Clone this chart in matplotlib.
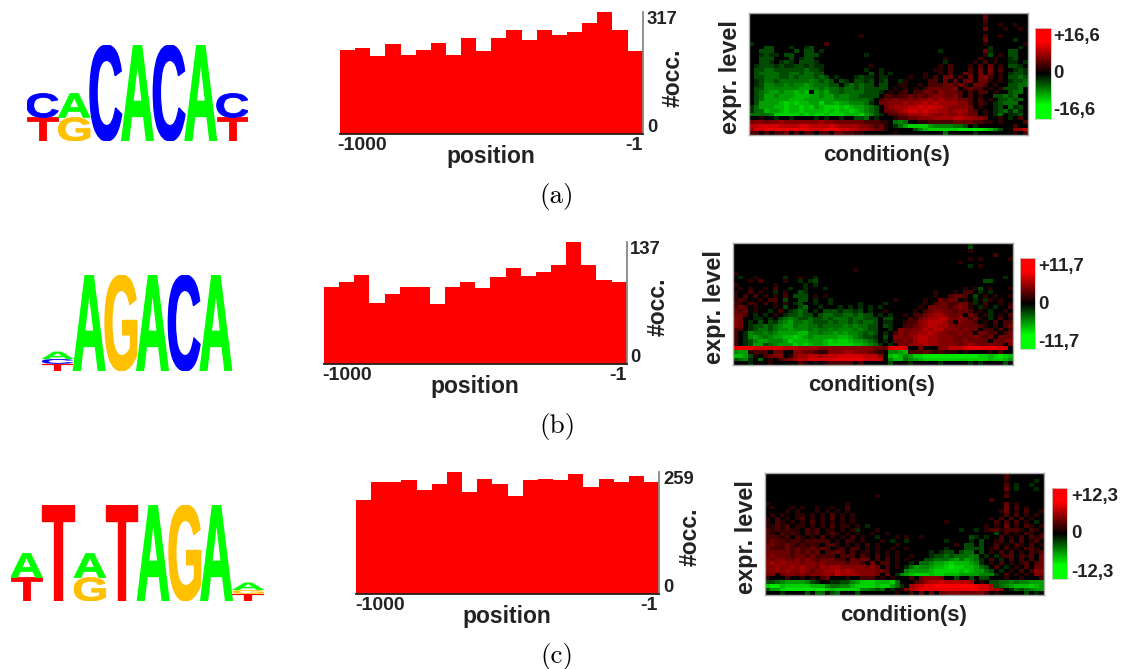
import numpy as np
import matplotlib
matplotlib.use('Agg')
import matplotlib.pyplot as plt
from matplotlib.colors import LinearSegmentedColormap
from matplotlib.font_manager import FontProperties
from matplotlib.patches import PathPatch
from matplotlib.textpath import TextPath
from matplotlib.transforms import Affine2D

W, H = 1121, 669

plt.rcParams['font.family'] = ['Liberation Sans', 'DejaVu Sans']

# sequence logos, each column is a bottom-up stack of (letter, bits)
logo_a = [[('T', .49), ('C', .5)], [('G', .49), ('A', .5)], [('C', 2)], [('A', 2)],
          [('C', 2)], [('A', 2)], [('T', .49), ('C', .5)]]
logo_b = [[('T', .15), ('C', .1), ('A', .15)], [('A', 2)], [('G', 2)], [('A', 2)],
          [('C', 2)], [('A', 2)]]
logo_c = [[('T', .49), ('A', .5)], [('T', 2)], [('G', .49), ('A', .5)], [('T', 2)],
          [('A', 2)], [('G', 2)], [('A', 2)], [('T', .15), ('G', .08), ('A', .15)]]
letter_colors = {'A': '#00ff00', 'C': '#0000ff', 'G': '#ffc000', 'T': '#ff0000'}

# occurrences per position bin
occ_a = [219, 223, 202, 234, 205, 219, 236, 206, 249, 215,
         251, 272, 244, 272, 258, 265, 290, 317, 272, 215]
occ_b = [86.5, 92.5, 100, 69, 79, 87, 87, 67, 86.5, 92,
         85, 98, 108, 99, 104, 111.5, 137, 112, 94, 92.5]
occ_c = [201, 239, 239, 242, 222, 234, 259, 217, 245, 234,
         208, 242, 245, 242, 256, 228, 245, 239, 251, 239]

# heatmaps read cell by cell: . black, 1-9 red levels, a-i green levels
heat_a = [
    "...............................................2........",
    "...............................................3........",
    "...............................................2........",
    "...............................................1..1..1..",
    "...............................................3...1..1.",
    "........................................................",
    "......................1........................2..1.....",
    "...............................................3.....a..",
    "a..............2...............................1.......1",
    "...bb...a..ab...................................a.....a.",
    "..bbb....b.bb.a.......................a........3a...bb..",
    "..abaa.bb..bbb.........a.......................1b.1.bb..",
    "..bbb...b.abb..........................1......2..1..ab..",
    "..bba.aba.bbba.........................a.....1.2.1..aa.a",
    ".abbbabaabbabaa.........1.............1.2...1.2.3.1.bba.",
    ".bbccbbbbbbcbba........a..a..........11.2...2.3.4.2..aba",
    ".bccccbbccbccbb.........b.a.a......1..1.2..32.3.3.1.abba",
    ".bbcccbbcbcccbcb.a...abaa.aa....1..1.2.33.2.3.342.1.bbcb",
    ".abccbccccccdcbcb.ba.bbab.ab..a1....22.3.3.33.331.1.abbc",
    ".abddccdcddedcccbb.bcbcbb.bb..11..1.22233232.332.1..bbcc",
    ".bbdddddddeeddcdccbccbcbbbbb.1.1.1.2333334.2322.1.1bbbc",
    ".bcdeedeefef.edeccbccccbbba.1.12.2233243332.2.22.1..bcc",
    ".bceedeeefffeedeecddccbbbb.2212232323443342.2.1..bbcbc.",
    ".bceeeeefffeeeeeedddccccb.2334334344545444332.2.1.bbcbc",
    ".beeeefgfgffeegeefeedddca.3344454556565555442.21.abccc.",
    "aceeeffgffgfgefgggfgfeedcb.345556676766544443.1..ab.cab",
    "accfeefgffgffffgfgffgfedcb.3345677676655455532.1.abcaca",
    "ccccdgggggfgfggfgggfffgedba.223455565445445433.1.ac.aab",
    "..1..a..a....a.a..a..bbc.a...1223344455556655443..1.a.2.",
    "3443445444444454433333322211.cdc..112222233332211.1....21",
    "6677776666776666765555443231.aceggggeddddccb.a.......2..2",
    "5778888888887778887766554331.....bdfgggggghhhhhgfdb..456",
    "22.2.223.2.22.22.332211......1.........c.....a.......1.2",
]
heat_b = [
    "...............................................a........",
    "...............................................b........",
    "...............................................1........",
    "....................................................2...",
    "...............................................1.1.....1",
    ".............................................1..........",
    "...............................................a.1......",
    "........................1...............................",
    "1.......................................................",
    ".a..1.....a..1..a.....................................a.",
    "...1.2....1..a.ab.................................bb....",
    "1.......1.....a.a.......................................",
    ".1.1..1.2..a..a...a...........................1.1b.1...1",
    "1..2.1..a.1..ba.........................1...1.22.a.a....",
    "1.2.2.1.1.2.bbb.1.1.....................1..2332.b.1.1..1",
    "121..1.22.b..bb.a..a............1.....1..3233.1.a.a1.1..",
    "21.21.2.1.1.ab..a..a.....a....a.......1.23322331a.2..1.1",
    "232.1...1.b..bc..a...a.a.a.a.a.......1.333323431.a1.a..2",
    "323.1..a.2.abcb.a.bbbabbab.a..1.....1.2344332332.1.a..1.",
    "332.a.a.1.abbcbb.bccbbccbcbb.a.a..1.2234554333.32.1a.1.2",
    "43..aa.a.bcdcbbcbbcbcccbccbbb.bb...213455664343231.a.2.1",
    "43.a.b.bacdeccdcbbbcbccbcbccb.aa..1224566653.4332.1.2.22",
    "43.abbcbcdeecddccbccccdcdccbb.ba..22345665543333321.1.23",
    "22.abccbcddedddcdccdcdddcdcbb..a.4334465664443433.22.2.2",
    "2.adccdcdeeeeffddcddededdcbcb.a.2434455654433433.3322.23",
    "2.adedcdeeffgfedeeeeeffedcbba.b.44345665544433334323.333",
    "2.abdeedddegfffeeefgfggfeedcb.a.3343566554443343333.3334",
    "2.abeebcdeeegfgfeefgggggffedca.a.434556554444345433433.3",
    "88887777776665555444444444443337887..3...44666788888877",
    "dee1222.33..443321144455444321.ddef2223212111.1....1.2..",
    "ffeb1.2344.1455665666777776664.fgfdegghhhhhhhhhhhggfghgf",
    "bcda.c.1.234566777778888887776.dffcdefgggggggggggggfggfe",
    "...a...1.....21.1.122222.2.....b...a.....a.....a.a....b.",
]
heat_c = [
    "................................................2.......",
    "................................................2.......",
    "................................................1.....a.",
    "................................................2.a..a..",
    "................................................3.a...a.",
    "................................................1.......",
    "......................1.........................2.......",
    ".............................................2..........",
    "1...............1...............................3.1.....",
    ".1...1.1..1..1..2...............................3.2.1...",
    "....1.1...1.1.1.1..............................13.1.2..1",
    ".1.1..11.1.1.2.1.1..............................2.2.1.1.",
    "1.2.1.12.1.1.2.1.1...........................1.2.2.2.1..",
    "1.21.1.1.2.1.1.1.1..................1.........2.2.2.1.a.",
    "11212.11.1.1.2.11.1.a.......................1.1.3.1.21.1",
    "2121211.212.11.1.1a...1................a..a.12212221.21.",
    "21.2121.212.121.1.1..1..1.....................b.2.1.21.1",
    "22212.21.1.2.1.1.2.1..a...1.1..1.........ba.a..2.1.2.212",
    "2322122122222.1.21.1...1.a..a.......a....a.b..12.2.2.12.",
    "33223212121.221.1.1.2.1...1...........1.bb.b..2.1.21.2.1",
    "3222323223232.12.22.1.1..1..1.......a...bbbb.12.2.1.221.",
    "33333232323.2232.2.11.1.1.1......a.abb.bcc.b.1.2.2.1.212",
    "34333233232222.222.21.2.1.1..1...abbcbcccdc.a.a122.212.3",
    "4344334343233322.3233.2.2.1.1...bbcccdecedca.2.a.2.2.2.3",
    "45454443443433332332.3.22.1..a.ccdeefgfffeda.1.2.1.12.23",
    "44544545443545544444343.2.1.aceddeffghggffecb.2.a.1.2.33",
    "4454544543445565654444332...deeeefgggggfgfeecb.a.1.2.244",
    "34.34434344454655554443.3.adefgggfggfffeeeeddda.2.1.1.43",
    "1...2..1.1.23...1..222.1.1...2.34443..b..b.bb...1..1...2",
    "bbcdeeeedba..aabbdegggfffgc...235667666665.1.bbccdcddeee",
    "ghhfgggggfffdccddfggggfggeca.56788999999998775bcdefffgfeg",
    "beeghhhhhhhhgfgggggddcbc.a.145788888888889877654.acbcdee",
    "...a....b.cc.bc...b.......1..2.3.3.3344333342.1.....b.a.",
]

cond_max_a, cond_max_b, cond_max_c = 16.6, 11.7, 12.3

# colour bar saturates before its ends, like the printed one
green_red = LinearSegmentedColormap.from_list(
    'gr', [(0, '#00ff00'), (0.15, '#00ff00'), (0.5, '#000000'), (0.85, '#ff0000'), (1, '#ff0000')])

fig = plt.figure(figsize=(W / 100, H / 100), dpi=100, facecolor='white')


def px_axes(x0, y0, x1, y1):
    return fig.add_axes([x0 / W, 1 - y1 / H, (x1 - x0) / W, (y1 - y0) / H])


def px_text(x, y, s, **kw):
    kw.setdefault('va', 'center')
    kw.setdefault('color', '#222222')
    kw.setdefault('fontweight', 'bold')
    fig.text(x / W, 1 - y / H, s, **kw)


def decode(rows):
    out = np.zeros((len(rows), 56))
    for r, row in enumerate(rows):
        for c, ch in enumerate(row[:56]):
            if ch.isdigit():
                out[r, c] = (int(ch) / 9) ** 0.8 * 0.7
            elif ch != '.':
                out[r, c] = -((ord(ch) - 96) / 9) ** 0.8 * 0.7
    return out


def draw_logo(cols, box):
    ax = px_axes(*box)
    ax.set_xlim(0, len(cols))
    ax.set_ylim(0, 2)
    ax.axis('off')
    fp = FontProperties(family='Liberation Sans', weight='bold')
    for i, stack in enumerate(cols):
        base = 0
        for letter, bits in stack:
            path = TextPath((0, 0), letter, size=1, prop=fp)
            bb = path.get_extents()
            tr = (Affine2D().translate(-bb.x0, -bb.y0)
                  .scale(1 / bb.width, bits / bb.height)
                  .translate(i, base))
            color = letter_colors[letter]
            ax.add_patch(PathPatch(path, transform=tr + ax.transData,
                                   fc=color, ec=color, lw=min(1.0, bits * 1.2)))
            base += bits


def draw_bars(values, box, top_label, top_x, top_y, zero_y, left_x, tick_y, right_x,
              pos_x, pos_y, occ_x, occ_y):
    ax = px_axes(*box)
    ax.bar(np.arange(len(values)), values, width=1, color='#ff0000')
    ax.set_xlim(-0.5, len(values) - 0.5)
    ax.set_ylim(0, max(values))
    ax.set_xticks([])
    ax.set_yticks([])
    ax.patch.set_alpha(0)
    for side in ['top', 'left']:
        ax.spines[side].set_visible(False)
    ax.spines['right'].set_color('#888888')
    ax.spines['right'].set_linewidth(1.3)
    ax.spines['bottom'].set_color('#222222')
    ax.spines['bottom'].set_linewidth(1.3)
    px_text(top_x, top_y, top_label, fontsize=13.3)
    px_text(top_x, zero_y, '0', fontsize=13.3)
    px_text(left_x, tick_y, '-1000', fontsize=14)
    px_text(right_x, tick_y, '-1', fontsize=14, ha='right')
    px_text(pos_x, pos_y + 1, 'position', fontsize=16.5, ha='center')
    px_text(occ_x, occ_y, '#occ.', fontsize=16.5, rotation=90, ha='center')


def draw_heat(rows, vmax, box, cbox, label_x, label_ys, expr_x, expr_y, cond_x, cond_y):
    ax = px_axes(*box)
    im = ax.imshow(decode(rows) * vmax, cmap=green_red, vmin=-vmax, vmax=vmax, aspect='auto',
                   interpolation='nearest')
    ax.set_xticks([])
    ax.set_yticks([])
    for sp in ax.spines.values():
        sp.set_color('#aaaaaa')
        sp.set_linewidth(1)
    cax = px_axes(*cbox)
    cb = fig.colorbar(im, cax=cax)
    cb.set_ticks([])
    cb.outline.set_edgecolor('#cccccc')
    cb.outline.set_linewidth(0.6)
    txt = ['+%.1f' % vmax, '0', '-%.1f' % vmax]
    for y, s in zip(label_ys, txt):
        px_text(label_x, y, s.replace('.', ','), fontsize=13.4)
    px_text(expr_x, expr_y, 'expr. level', fontsize=17, rotation=90, ha='center')
    px_text(cond_x, cond_y, 'condition(s)', fontsize=16, ha='center')


draw_logo(logo_a, (26.7, 45, 248.3, 141))
draw_logo(logo_b, (41.7, 275, 231.7, 371))
draw_logo(logo_c, (10.7, 505, 264, 601))

draw_bars(occ_a, (340, 12.3, 642.7, 134), '317', 647, 20, 128, 337, 146, 643, 491, 155, 673, 78)
draw_bars(occ_b, (324, 242.3, 626.7, 364), '137', 630, 250, 358, 322, 376, 627, 475, 385, 658, 307)
draw_bars(occ_c, (356, 472.3, 659.3, 594), '259', 663, 480, 588, 355, 606, 658, 507, 615, 690, 537)

draw_heat(heat_a, cond_max_a, (749, 12.7, 1027.7, 135), (1035, 28, 1050.7, 119),
          1053, (36, 74, 110), 731, 77, 887, 156)
draw_heat(heat_b, cond_max_b, (733.3, 242.7, 1012.7, 365), (1020, 258, 1035.3, 349),
          1038, (266, 304, 342), 715, 307, 872, 386)
draw_heat(heat_c, cond_max_c, (765.3, 472.7, 1044.3, 595), (1051.7, 488, 1067.3, 579),
          1071, (496, 534, 572), 747, 537, 904, 616)

for y, cap in zip([196, 427, 656], ['(a)', '(b)', '(c)']):
    px_text(557, y, cap, fontsize=19.5, ha='center', fontweight='normal', color='black',
            family=['cmr10', 'DejaVu Serif'])

fig.savefig('out.png', dpi=100)
